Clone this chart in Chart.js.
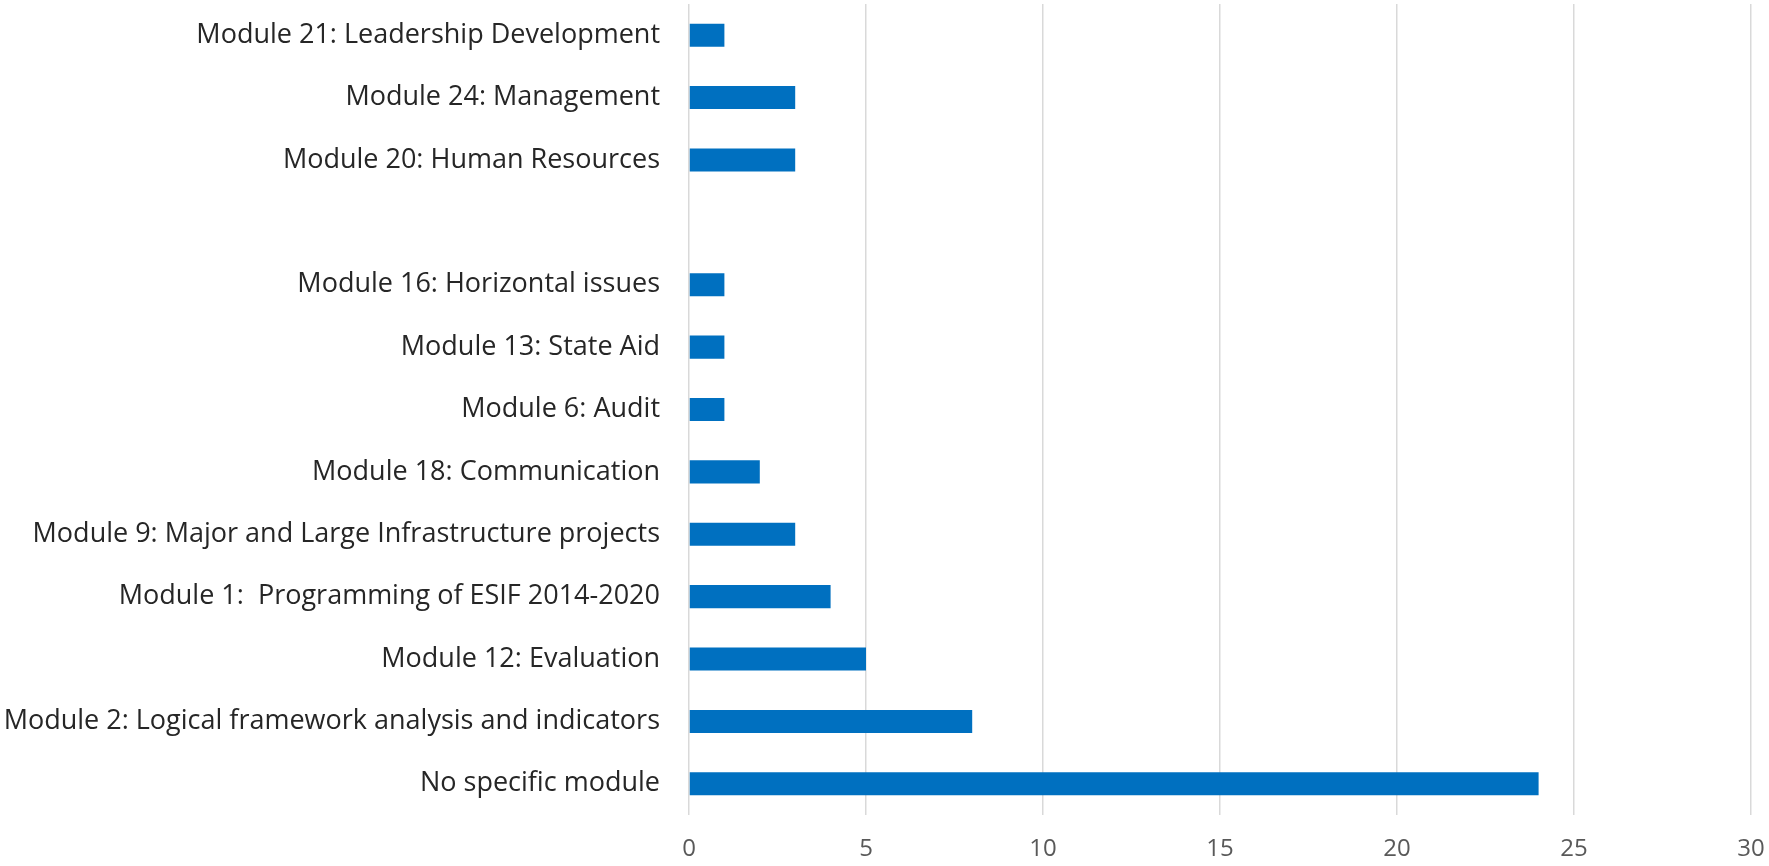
<!DOCTYPE html>
<html>
<head>
<meta charset="utf-8">
<script src="https://cdn.jsdelivr.net/npm/chart.js@4/dist/chart.umd.min.js"></script>
<style>
  html, body { margin: 0; padding: 0; background: #fff; }
  #wrap { width: 1769px; height: 866px; position: relative; }
</style>
</head>
<body>
<div id="wrap"><canvas id="chart"></canvas></div>
<script>
// Categorias (de cima para baixo) - a linha vazia é o espaço em branco do gráfico original
const modules = [
    'Module 21: Leadership Development',
    'Module 24: Management',
    'Module 20: Human Resources',
    '',
    'Module 16: Horizontal issues',
    'Module 13: State Aid',
    'Module 6: Audit',
    'Module 18: Communication',
    'Module 9: Major and Large Infrastructure projects',
    'Module 1:  Programming of ESIF 2014-2020',
    'Module 12: Evaluation',
    'Module 2: Logical framework analysis and indicators',
    'No specific module'
];
const counts = [1, 3, 3, null, 1, 1, 1, 2, 3, 4, 5, 8, 24];
const xTicks = [0, 5, 10, 15, 20, 25, 30];

const ctx = document.getElementById('chart').getContext('2d');
const chart = new Chart(ctx, {
    type: 'bar',
    data: {
        labels: modules,
        datasets: [{
            data: counts,
            backgroundColor: '#0070C0',
            borderWidth: 0,
            barPercentage: 0.37,
            categoryPercentage: 1
        }]
    },
    options: {
        indexAxis: 'y',
        responsive: true,
        maintainAspectRatio: false,
        animation: false,
        layout: { padding: { top: 4, right: 18, left: 0, bottom: 0 } },
        plugins: {
            legend: { display: false },
            tooltip: { enabled: false }
        },
        scales: {
            x: {
                min: xTicks[0],
                max: xTicks[xTicks.length - 1],
                afterBuildTicks: (scale) => { scale.ticks = xTicks.map(v => ({ value: v })); },
                afterFit: (scale) => {
                    scale.height = 51;
                    scale.paddingLeft = 0;
                    scale.paddingRight = 0;
                },
                grid: { color: '#d9d9d9', lineWidth: 1.5, drawTicks: false },
                border: { display: false },
                ticks: {
                    padding: 20,
                    color: '#595959',
                    font: { family: 'Open Sans', size: 24 }
                }
            },
            y: {
                afterFit: (scale) => {
                    scale.width = 689;
                    scale.paddingTop = 0;
                    scale.paddingBottom = 0;
                },
                grid: { display: false, drawTicks: false },
                border: { display: false },
                ticks: {
                    padding: 29,
                    autoSkip: false,
                    color: '#262626',
                    font: { family: 'Open Sans', size: 27 }
                }
            }
        }
    }
});
</script>
</body>
</html>
